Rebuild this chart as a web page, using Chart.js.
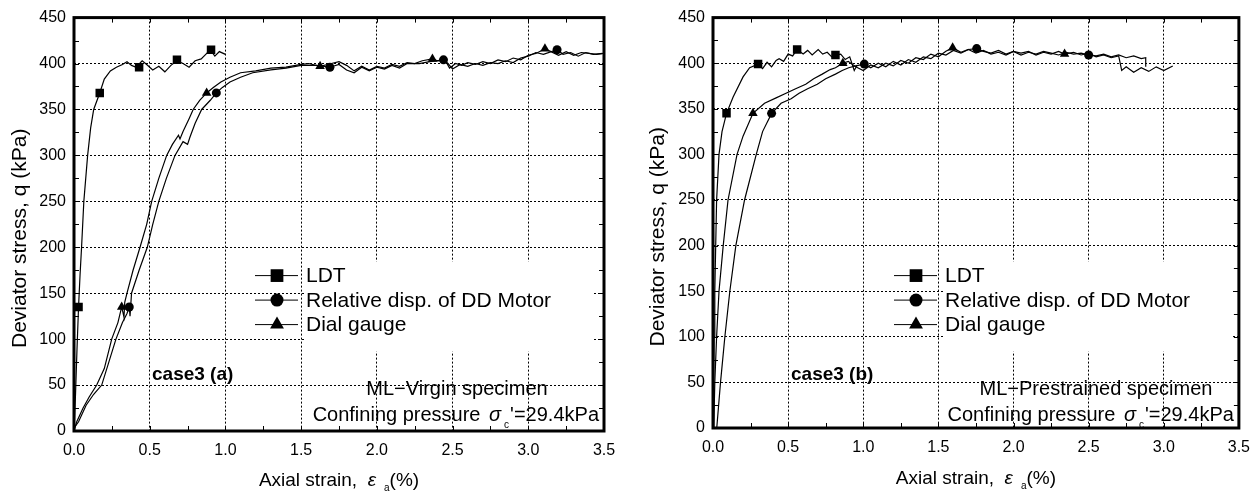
<!DOCTYPE html>
<html>
<head>
<meta charset="utf-8">
<title>case3</title>
<script src="https://cdn.jsdelivr.net/npm/chart.js@4.4.0/dist/chart.umd.min.js"></script>
<style>
  body { margin: 0; background: #fff; }
  #chartA { position: absolute; left: 0; top: 0; }
  #chartB { position: absolute; left: 640px; top: 0; }
</style>
</head>
<body>
<canvas id="chartA" width="630" height="496"></canvas>
<canvas id="chartB" width="620" height="496"></canvas>
<script>
// axis ticks
var strainTicks = [0, 0.5, 1.0, 1.5, 2.0, 2.5, 3.0, 3.5];
var stressTicks = [0, 50, 100, 150, 200, 250, 300, 350, 400, 450];
var seriesNames = ['LDT', 'Relative disp. of DD Motor', 'Dial gauge'];

// ---- case3 (a)  ML-Virgin specimen ----
var ldtA_e = [0, 0.01, 0.02, 0.03, 0.04, 0.05, 0.065, 0.09, 0.11, 0.13, 0.17, 0.2, 0.24, 0.28, 0.32, 0.35, 0.38, 0.41, 0.45, 0.48, 0.52, 0.56, 0.6, 0.64, 0.68, 0.72, 0.76, 0.8, 0.84, 0.87, 0.9, 0.93, 0.96, 1.0];
var ldtA_q = [0, 40, 90, 135, 170, 200, 250, 300, 330, 350, 368, 383, 392, 396, 399, 402, 398, 396, 403, 399, 393, 397, 391, 398, 403, 400, 396, 403, 405, 410, 415, 408, 413, 410];
var ldtA_me = [0.03, 0.17, 0.43, 0.68, 0.905];
var ldtA_mq = [135, 368, 396, 404, 415];

var motA_e = [0, 0.03, 0.08, 0.13, 0.183, 0.23, 0.277, 0.32, 0.35, 0.365, 0.37, 0.38, 0.43, 0.484, 0.52, 0.56, 0.61, 0.667, 0.72, 0.75, 0.766, 0.8, 0.843, 0.9, 0.94, 0.98, 1.03, 1.1, 1.18, 1.3, 1.4, 1.5, 1.6, 1.69, 1.75, 1.8, 1.85, 1.9, 1.95, 2.0, 2.05, 2.1, 2.15, 2.2, 2.28, 2.35, 2.44, 2.47, 2.5, 2.55, 2.6, 2.65, 2.7, 2.75, 2.8, 2.85, 2.9, 2.95, 3.0, 3.05, 3.1, 3.19, 3.23, 3.28, 3.33, 3.38, 3.43, 3.49];
var motA_q = [3, 10, 28, 40, 50, 75, 100, 118, 128, 135, 125, 150, 175, 200, 225, 250, 275, 300, 315, 312, 320, 335, 350, 360, 368, 374, 380, 385, 390, 393, 395, 398, 398, 396, 399, 393, 390, 396, 392, 396, 394, 398, 395, 400, 400, 402, 404, 400, 394, 399, 397, 400, 398, 401, 400, 403, 401, 406, 408, 412, 410, 415, 410, 412, 408, 412, 410, 411];
var motA_me = [0.365, 0.94, 1.69, 2.44, 3.19];
var motA_mq = [135, 368, 396, 404, 415];

var dialA_e = [0, 0.018, 0.06, 0.1, 0.15, 0.2, 0.249, 0.29, 0.315, 0.33, 0.335, 0.35, 0.39, 0.436, 0.48, 0.513, 0.56, 0.612, 0.65, 0.69, 0.7, 0.72, 0.76, 0.787, 0.83, 0.876, 0.92, 0.97, 1.03, 1.1, 1.2, 1.3, 1.4, 1.5, 1.55, 1.625, 1.7, 1.75, 1.8, 1.85, 1.9, 1.95, 2.0, 2.05, 2.1, 2.15, 2.2, 2.25, 2.3, 2.367, 2.4, 2.45, 2.48, 2.52, 2.56, 2.6, 2.65, 2.7, 2.75, 2.8, 2.85, 2.9, 2.95, 3.0, 3.05, 3.11, 3.15, 3.2, 3.25, 3.3, 3.35, 3.4, 3.45, 3.5];
var dialA_q = [0, 10, 25, 37, 50, 68, 100, 118, 135, 124, 140, 150, 175, 200, 225, 250, 275, 300, 312, 322, 318, 326, 340, 350, 360, 368, 374, 380, 385, 390, 392, 395, 396, 399, 400, 397, 400, 402, 398, 392, 397, 393, 397, 395, 399, 397, 401, 400, 403, 405, 403, 404, 395, 400, 398, 401, 399, 402, 400, 404, 402, 406, 404, 409, 411, 416, 413, 409, 413, 409, 412, 411, 410, 411];
var dialA_me = [0.315, 0.876, 1.625, 2.367, 3.11];
var dialA_mq = [135, 368, 397, 405, 416];

// ---- case3 (b)  ML-Prestrained specimen ----
var ldtB_e = [0, 0.004, 0.008, 0.012, 0.018, 0.024, 0.04, 0.06, 0.09, 0.134, 0.2, 0.244, 0.3, 0.33, 0.36, 0.39, 0.42, 0.44, 0.47, 0.5, 0.53, 0.56, 0.6, 0.63, 0.66, 0.7, 0.73, 0.76, 0.79, 0.815, 0.85, 0.88, 0.91, 0.94, 0.96];
var ldtB_q = [0, 50, 100, 150, 200, 250, 300, 325, 345, 363, 385, 395, 399, 394, 401, 396, 403, 405, 402, 410, 408, 415, 410, 414, 409, 415, 410, 412, 407, 409, 410, 404, 407, 392, 398];
var ldtB_me = [0.09, 0.30, 0.56, 0.815];
var ldtB_mq = [345, 399, 415, 409];

var motB_e = [0.025, 0.05, 0.079, 0.112, 0.152, 0.21, 0.288, 0.33, 0.39, 0.453, 0.52, 0.573, 0.63, 0.694, 0.75, 0.815, 0.86, 0.903, 0.95, 1.007, 1.05, 1.1, 1.15, 1.2, 1.25, 1.3, 1.35, 1.4, 1.45, 1.5, 1.55, 1.6, 1.65, 1.7, 1.755, 1.8, 1.85, 1.9, 1.95, 2.0, 2.05, 2.1, 2.15, 2.2, 2.25, 2.3, 2.35, 2.4, 2.45, 2.5, 2.55, 2.6, 2.65, 2.7, 2.75, 2.8, 2.85, 2.88, 2.88];
var motB_q = [0, 50, 100, 150, 200, 250, 300, 325, 345, 356, 361, 367, 372, 377, 383, 388, 392, 395, 397, 399, 395, 400, 396, 402, 398, 404, 401, 407, 405, 411, 409, 414, 411, 415, 416, 413, 411, 414, 410, 413, 409, 412, 410, 413, 411, 409, 412, 410, 411, 409, 408, 410, 407, 409, 406, 408, 405, 406, 396];
var motB_me = [0.39, 1.007, 1.755, 2.50];
var motB_mq = [345, 399, 416, 409];

var dialB_e = [0.005, 0.012, 0.024, 0.04, 0.068, 0.1, 0.16, 0.2, 0.266, 0.343, 0.42, 0.486, 0.55, 0.617, 0.67, 0.727, 0.78, 0.815, 0.864, 0.9, 0.95, 1.0, 1.05, 1.1, 1.15, 1.2, 1.25, 1.3, 1.35, 1.4, 1.45, 1.5, 1.55, 1.595, 1.65, 1.7, 1.75, 1.8, 1.85, 1.9, 1.95, 2.0, 2.05, 2.1, 2.15, 2.2, 2.25, 2.3, 2.34, 2.4, 2.45, 2.5, 2.55, 2.6, 2.65, 2.7, 2.72, 2.75, 2.8, 2.85, 2.9, 2.95, 3.0, 3.06];
var dialB_q = [0, 50, 100, 150, 200, 250, 300, 320, 345, 356, 362, 367, 372, 377, 383, 388, 393, 395, 400, 402, 396, 392, 398, 395, 400, 397, 403, 400, 406, 404, 410, 407, 413, 417, 412, 415, 411, 414, 410, 412, 409, 413, 411, 413, 409, 412, 410, 413, 410, 412, 409, 411, 407, 409, 406, 408, 392, 396, 390, 395, 391, 396, 392, 397];
var dialB_me = [0.266, 0.864, 1.595, 2.34];
var dialB_mq = [345, 400, 417, 410];

var FONT = "'Liberation Sans', Arial, sans-serif";

function pts(xs, ys) {
  var out = [];
  for (var i = 0; i < xs.length; i++) out.push({x: xs[i], y: ys[i]});
  return out;
}

// draw a run of text pieces (for sub-scripts), align 'center' | 'right' | 'left'
function drawParts(ctx, parts, x, y, align) {
  var total = 0;
  parts.forEach(function (p) { ctx.font = p.f; p.w = ctx.measureText(p.t).width + (p.gap || 0); total += p.w; });
  var cx = align == 'center' ? x - total / 2 : (align == 'right' ? x - total : x);
  ctx.textAlign = 'left';
  ctx.textBaseline = 'alphabetic';
  parts.forEach(function (p) {
    ctx.font = p.f;
    ctx.fillText(p.t, cx, y + (p.dy || 0));
    cx += p.w;
  });
}

var deco = {
  id: 'deco',
  beforeDatasetsDraw: function (chart) {
    var a = chart.chartArea, ctx = chart.ctx;
    // white box behind legend text
    ctx.save();
    ctx.fillStyle = '#fff';
    ctx.fillRect(a.left + 230, a.top + 244, 290, 90);
    ctx.restore();
  },
  afterDraw: function (chart) {
    var o = chart.options.plugins.deco;
    var a = chart.chartArea, ctx = chart.ctx;
    var xs = chart.scales.x, ys = chart.scales.y;
    ctx.save();
    ctx.fillStyle = '#000';
    ctx.strokeStyle = '#000';

    // minor ticks, inward
    ctx.lineWidth = 1;
    ctx.beginPath();
    for (var v = 0; v <= 450; v += 25) {
      var py = Math.round(ys.getPixelForValue(v)) + 0.5;
      ctx.moveTo(a.left, py); ctx.lineTo(a.left + 5, py);
      ctx.moveTo(a.right, py); ctx.lineTo(a.right - 5, py);
    }
    for (var e = 0; e <= 3.5001; e += 0.25) {
      var px = Math.round(xs.getPixelForValue(e)) + 0.5;
      ctx.moveTo(px, a.top); ctx.lineTo(px, a.top + 5);
      ctx.moveTo(px, a.bottom); ctx.lineTo(px, a.bottom - 5);
    }
    ctx.stroke();

    // frame
    ctx.lineWidth = 3;
    ctx.strokeRect(a.left, a.top, a.right - a.left, a.bottom - a.top);

    // legend
    var ds = chart.data.datasets;
    var lx = a.left + 181, ly = a.top + 258;
    ctx.lineWidth = 1;
    for (var i = 0; i < 3; i++) {
      var line = ds[i * 2], mk = ds[i * 2 + 1];
      var yy = ly + i * 24.5;
      ctx.beginPath();
      ctx.moveTo(lx, yy); ctx.lineTo(lx + 43, yy);
      ctx.stroke();
      Chart.helpers.drawPoint(ctx, {pointStyle: mk.pointStyle, radius: mk.legendRadius, rotation: 0, borderWidth: 0}, lx + 22, yy);
      ctx.font = '21px ' + FONT;
      ctx.textAlign = 'left';
      ctx.textBaseline = 'middle';
      ctx.fillText(line.label, lx + 51, yy + 1);
    }

    // case label
    ctx.font = 'bold 19px ' + FONT;
    ctx.textBaseline = 'middle';
    ctx.fillText(o.caseLabel, a.left + 78, a.top + 357);

    // specimen + confining pressure
    ctx.font = '20px ' + FONT;
    ctx.textAlign = 'center';
    ctx.fillText(o.specimen, a.left + 383, a.top + 372);
    drawParts(ctx, [
      {t: 'Confining pressure ', f: '20px ' + FONT, gap: 3},
      {t: 'σ', f: 'italic 20px ' + FONT, gap: 3},
      {t: 'c', f: '10px ' + FONT, dy: 7, gap: 1},
      {t: '\'=29.4kPa', f: '20px ' + FONT}
    ], a.right - 5, a.top + 403, 'right');

    // axis titles
    drawParts(ctx, [
      {t: 'Axial strain,  ', f: '19px ' + FONT},
      {t: 'ε', f: 'italic 19px ' + FONT, gap: 8},
      {t: 'a', f: '10px ' + FONT, dy: 5},
      {t: '(%)', f: '19px ' + FONT}
    ], (a.left + a.right) / 2, o.xTitleY, 'center');

    ctx.translate(o.yTitleX, (a.top + a.bottom) / 2 + 14);
    ctx.rotate(-Math.PI / 2);
    ctx.font = '21px ' + FONT;
    ctx.textAlign = 'center';
    ctx.textBaseline = 'middle';
    ctx.fillText('Deviator stress, q (kPa)', 0, 0);
    ctx.restore();
  }
};

function panel(id, series, lay, notes) {
  var datasets = [];
  series.forEach(function (s, i) {
    datasets.push({
      label: seriesNames[i], data: pts(s.e, s.q), showLine: true,
      borderColor: '#000', borderWidth: 1.2, pointRadius: 0, tension: 0, order: 2
    });
    datasets.push({
      label: seriesNames[i] + ' marks', data: pts(s.me, s.mq), showLine: false,
      pointStyle: s.style, pointRadius: s.r, legendRadius: s.lr,
      backgroundColor: '#000', borderColor: '#000', borderWidth: 0, order: 1
    });
  });
  var tickFont = {family: FONT, size: 16};
  return new Chart(document.getElementById(id), {
    type: 'scatter',
    data: {datasets: datasets},
    options: {
      responsive: false,
      animation: false,
      layout: {padding: {left: 0, right: lay.padR, top: lay.padT, bottom: 0}},
      plugins: {
        legend: {display: false},
        tooltip: {enabled: false},
        deco: notes
      },
      scales: {
        x: {
          type: 'linear', min: strainTicks[0], max: strainTicks[strainTicks.length - 1],
          afterFit: function (s) { s.height = lay.xH; },
          afterBuildTicks: function (s) { s.ticks = strainTicks.map(function (v) { return {value: v}; }); },
          ticks: {autoSkip: false, maxRotation: 0, padding: 10, color: '#000', font: tickFont,
            callback: function (v) { return Number(v).toFixed(1); }},
          grid: {color: '#000', lineWidth: 1, drawTicks: false},
          border: {display: false, dash: [2, 2]}
        },
        y: {
          type: 'linear', min: stressTicks[0], max: stressTicks[stressTicks.length - 1],
          afterFit: function (s) { s.width = lay.yW; },
          afterBuildTicks: function (s) { s.ticks = stressTicks.map(function (v) { return {value: v}; }); },
          ticks: {autoSkip: false, padding: 8, color: '#000', font: tickFont},
          grid: {color: '#000', lineWidth: 1, drawTicks: false},
          border: {display: false, dash: [2, 2]}
        }
      }
    },
    plugins: [deco]
  });
}

panel('chartA', [
  {e: ldtA_e, q: ldtA_q, me: ldtA_me, mq: ldtA_mq, style: 'rect', r: 6, lr: 9},
  {e: motA_e, q: motA_q, me: motA_me, mq: motA_mq, style: 'circle', r: 4.5, lr: 6.5},
  {e: dialA_e, q: dialA_q, me: dialA_me, mq: dialA_mq, style: 'triangle', r: 5.5, lr: 8}
], {padR: 26, padT: 15, xH: 65, yW: 74},
   {caseLabel: 'case3 (a)', specimen: 'ML\u2212Virgin specimen', xTitleY: 486, yTitleX: 20});

panel('chartB', [
  {e: ldtB_e, q: ldtB_q, me: ldtB_me, mq: ldtB_mq, style: 'rect', r: 6, lr: 9},
  {e: motB_e, q: motB_q, me: motB_me, mq: motB_mq, style: 'circle', r: 4.5, lr: 6.5},
  {e: dialB_e, q: dialB_q, me: dialB_me, mq: dialB_mq, style: 'triangle', r: 5.5, lr: 8}
], {padR: 16, padT: 13, xH: 68, yW: 73},
   {caseLabel: 'case3 (b)', specimen: 'ML\u2212Prestrained specimen', xTitleY: 484, yTitleX: 18});
</script>
</body>
</html>
